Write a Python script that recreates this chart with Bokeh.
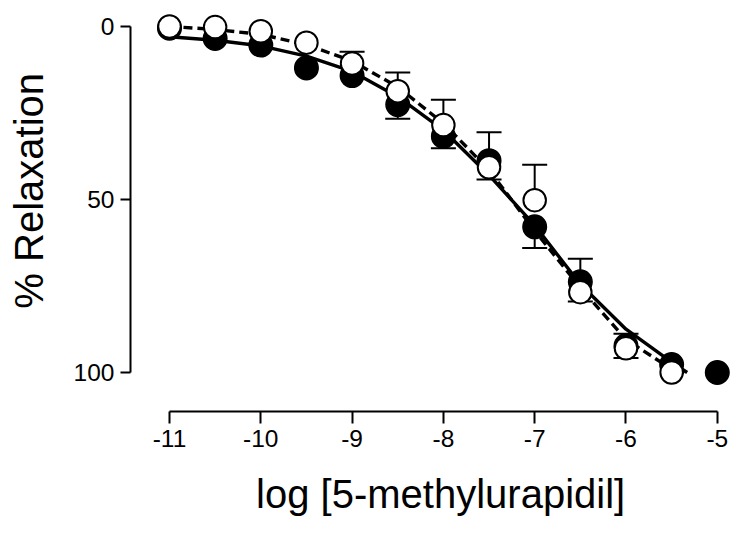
from math import pi
from bokeh.plotting import figure
from bokeh.models import Range1d, Whisker, TeeHead, ColumnDataSource, FixedTicker, Label
from bokeh.embed import file_html
from bokeh.resources import INLINE

# ---- data ----
log_conc_filled = [-11, -10.5, -10, -9.5, -9, -8.5, -8, -7.5, -7, -6.5, -6, -5.5, -5]
relax_filled = [0.5, 3.5, 5.4, 12.0, 14.2, 22.6, 31.8, 38.8, 57.9, 73.8, 92.3, 97.7, 100.0]
sem_filled = [0, 0, 0, 0, 0, 4.1, 3.4, 5.4, 6.1, 5.7, 3.5, 0, 0]      # drawn downward

log_conc_open = [-11, -10.5, -10, -9.5, -9, -8.5, -8, -7.5, -7, -6.5, -6, -5.5]
relax_open = [0.0, 0.2, 1.4, 4.7, 10.7, 18.7, 28.5, 40.7, 50.2, 76.8, 93.0, 100.0]
sem_open = [0, 0, 0, 0, 3.4, 5.4, 7.3, 10.1, 10.2, 9.7, 4.2, 0]       # drawn upward

# fitted curves (clipped at 100 by the axis)
fit_solid_x = [-11, -10.5, -10, -9.5, -9, -8.5, -8, -7.5, -7, -6.5, -6, -5.5, -5.33]
fit_solid_y = [3.0, 4.0, 5.6, 8.6, 13.0, 20.3, 30.0, 43.0, 57.5, 74.5, 87.5, 97.0, 100.0]
fit_dashed_x = [-11, -10.5, -10, -9.5, -9, -8.5, -8, -7.5, -7, -6.5, -6, -5.5, -5.36]
fit_dashed_y = [0.0, 0.9, 2.3, 5.3, 10.0, 17.5, 28.0, 41.5, 59.0, 75.5, 90.5, 99.0, 100.0]

x_ticks = [-11, -10, -9, -8, -7, -6, -5]
y_ticks = [0, 50, 100]
x_title = "log [5-methylurapidil]"
y_title = "% Relaxation"

FONT = "Liberation Sans"

p = figure(width=735, height=525, output_backend="svg", toolbar_location=None,
           x_range=Range1d(-11.427, -4.8005), y_range=Range1d(111.27, -6.908),
           min_border_left=130, min_border_right=0, min_border_top=2, min_border_bottom=114)
p.outline_line_color = None
p.grid.visible = False

for ax in (p.xaxis[0], p.yaxis[0]):
    ax.axis_line_width = 2
    ax.axis_line_color = "black"
    ax.major_tick_line_width = 2
    ax.major_tick_line_color = "black"
    ax.major_tick_in = 0
    ax.minor_tick_in = 0
    ax.minor_tick_out = 0
    ax.major_label_text_font = FONT
    ax.major_label_text_font_size = "24.5px"
    ax.major_label_text_color = "black"
    ax.major_label_standoff = 6

p.xaxis[0].major_tick_out = 12
p.xaxis[0].bounds = (-11, -5)
p.xaxis[0].ticker = FixedTicker(ticks=x_ticks)
p.xaxis[0].major_label_overrides = {t: str(t) for t in x_ticks}

p.yaxis[0].major_tick_out = 10
p.yaxis[0].bounds = (0, 100)
p.yaxis[0].ticker = FixedTicker(ticks=y_ticks)

# axis titles, placed in the side panels and centred on the axis bounds
p.add_layout(Label(x=-8.03, y=0, x_units="data", y_units="screen", text=x_title,
                   text_align="center", text_baseline="alphabetic",
                   text_font=FONT, text_font_size="40px", text_color="black"), "below")
p.add_layout(Label(x=2, y=47.5, x_units="screen", y_units="data", text=y_title,
                   angle=pi / 2, text_align="center", text_baseline="alphabetic",
                   text_font=FONT, text_font_size="40px", text_color="black"), "left")

# error bars (filled: downward, open: upward)
def whisker_source(xs, ys, es, sign):
    bx, tip, base = [], [], []
    for x, y, e in zip(xs, ys, es):
        if e > 0:
            bx.append(x); tip.append(y + sign * e); base.append(y)
    return ColumnDataSource(dict(x=bx, upper=tip, lower=base))

for xs, ys, es, sign in ((log_conc_filled, relax_filled, sem_filled, 1),
                         (log_conc_open, relax_open, sem_open, -1)):
    w = Whisker(source=whisker_source(xs, ys, es, sign), base="x", upper="upper", lower="lower",
                line_width=2, line_color="black",
                upper_head=TeeHead(size=25, line_width=2, line_color="black"),
                lower_head=None)
    p.add_layout(w)

# fitted curves
p.line(fit_solid_x, fit_solid_y, line_width=3.4, line_color="black")
p.line(fit_dashed_x, fit_dashed_y, line_width=3.4, line_color="black", line_dash="9 5")

# data points
p.scatter(log_conc_filled, relax_filled, marker="circle", size=23.5,
          fill_color="black", line_color="black", line_width=1.5)
p.scatter(log_conc_open, relax_open, marker="circle", size=22.5,
          fill_color="white", line_color="black", line_width=2)

open("out.html", "w").write(file_html(p, INLINE))
